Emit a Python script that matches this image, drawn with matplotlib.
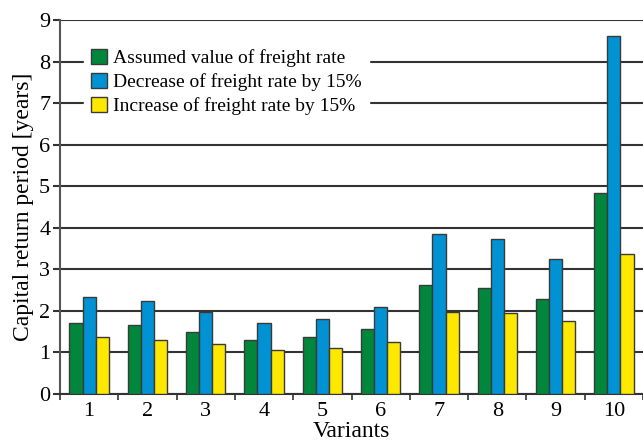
import numpy as np
import matplotlib.pyplot as plt

variants = ["1", "2", "3", "4", "5", "6", "7", "8", "9", "10"]
assumed = [1.72, 1.66, 1.49, 1.31, 1.36, 1.56, 2.63, 2.54, 2.28, 4.84]
decrease = [2.34, 2.24, 1.98, 1.70, 1.80, 2.10, 3.85, 3.74, 3.25, 8.62]
increase = [1.36, 1.30, 1.21, 1.07, 1.11, 1.25, 1.98, 1.94, 1.76, 3.37]
labels = ["Assumed value of freight rate",
          "Decrease of freight rate by 15%",
          "Increase of freight rate by 15%"]
colors = ["#00873c", "#0092d2", "#ffe800"]

plt.rcParams['font.family'] = ['Liberation Serif', 'DejaVu Serif']

fig = plt.figure(figsize=(6.43, 4.48), dpi=100)
W, H = 643, 448
ax = fig.add_axes([60 / W, (H - 394) / H, (643 - 60) / W, (394 - 20) / H])

x = np.arange(1, len(variants) + 1)
w = 0.225
for k, (vals, c, lab) in enumerate(zip([assumed, decrease, increase], colors, labels)):
    ax.bar(x + (k - 1) * w, vals, w, color=c, edgecolor="#3a3a3a", linewidth=1.0,
           label=lab, zorder=3)

ax.set_ylim(0, 9)
ax.set_xlim(0.5, 0.5 + (643 - 60) / 59.6)
ax.set_yticks(range(10))
ax.yaxis.grid(True, color="#333333", linewidth=1.5, zorder=1)
ax.set_axisbelow(True)

# category ticks at boundaries, labels at centres
ax.set_xticks(np.arange(0.5, 11, 1.0))
ax.set_xticklabels([])
ax.set_xticks(x, minor=True)
ax.set_xticklabels(variants, minor=True)
ax.tick_params(axis="x", which="major", direction="out", length=4, width=1.2, color="#333333")
ax.tick_params(axis="x", which="minor", length=0, labelsize=16, pad=6)
ax.tick_params(axis="y", direction="out", length=5, width=1.5, color="#333333", labelsize=16, pad=2)

for s in ["top", "right"]:
    ax.spines[s].set_visible(False)
ax.spines["left"].set_color("#555555")
ax.spines["left"].set_linewidth(1.5)
ax.spines["bottom"].set_color("#333333")
ax.spines["bottom"].set_linewidth(1.5)

ax.set_ylabel("Capital return period [years]", fontsize=17, labelpad=4)
ax.set_xlabel("Variants", fontsize=17, labelpad=0)

leg = ax.legend(loc="upper left", bbox_to_anchor=(0.024, 0.97), fontsize=14,
                frameon=True, framealpha=1, edgecolor="white", fancybox=False,
                handlelength=0.8, handleheight=0.8, handletextpad=0.3,
                labelspacing=0.3, borderpad=0.4)
leg.set_zorder(5)

fig.savefig("out.png", dpi=100)
